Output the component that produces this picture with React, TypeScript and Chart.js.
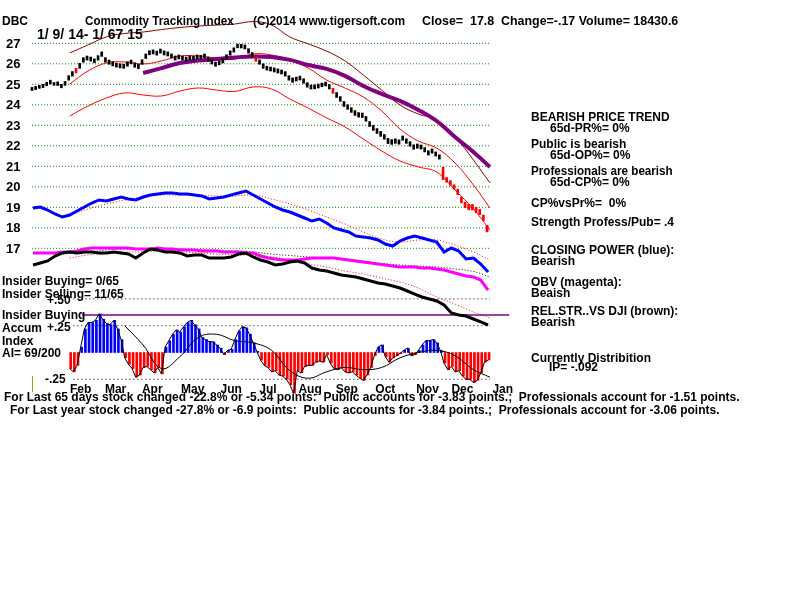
import React, { useEffect, useRef } from "react";
import { Chart, registerables } from "chart.js";

Chart.register(...registerables);

const FONT = '"Liberation Sans", Arial, sans-serif';

// ---------- data ----------
const priceTicks = [27, 26, 25, 24, 23, 22, 21, 20, 19, 18, 17];
const monthLabels = ["Feb", "Mar", "Apr", "May", "Jun", "Jul", "Aug", "Sep", "Oct", "Nov", "Dec", "Jan"];
const monthTickDays = [26, 45, 65, 87, 108, 128, 151, 171, 192, 215, 234, 256];

// daily price bars, one every 2 trading days
const priceHigh = [24.85,24.90,24.95,25.00,25.10,25.20,25.09,25.12,25.00,25.14, 25.42,25.62,25.78,26.02,26.30,26.38,26.33,26.24,26.40,26.58,
  26.30,26.18,26.10,26.03,26.00,25.98,26.10,26.18,26.05,25.98, 26.20,26.48,26.64,26.68,26.62,26.72,26.63,26.58,26.48,26.38,
  26.43,26.37,26.33,26.38,26.37,26.43,26.42,26.48,26.33,26.19, 26.08,26.14,26.24,26.44,26.63,26.78,26.96,26.95,26.92,26.74,
  26.55,26.34,26.19,26.00,25.88,25.84,25.80,25.75,25.70,25.62, 25.42,25.31,25.35,25.40,25.27,25.08,24.96,24.97,25.01,25.06,
  25.11,24.99,24.80,24.60,24.40,24.16,24.00,23.86,23.72,23.62, 23.60,23.43,23.18,22.99,22.84,22.70,22.55,22.36,22.30,22.34,
  22.29,22.48,22.34,22.20,22.05,22.09,22.04,21.91,21.76,21.85, 21.70,21.56,20.95,20.45,20.30,20.10,19.88,19.50,19.25,19.15,
  19.14,19.00,18.90,18.62,18.12];
const priceLow = [24.70,24.74,24.80,24.84,24.93,25.02,24.95,24.94,24.83,24.95, 25.20,25.40,25.55,25.78,26.08,26.18,26.13,26.05,26.18,26.36,
  26.08,25.98,25.90,25.84,25.80,25.78,25.88,26.00,25.83,25.76, 25.98,26.26,26.44,26.48,26.42,26.52,26.43,26.38,26.28,26.18,
  26.24,26.18,26.13,26.19,26.18,26.24,26.23,26.28,26.13,25.99, 25.88,25.95,26.04,26.22,26.42,26.57,26.78,26.77,26.72,26.52,
  26.32,26.12,25.98,25.78,25.69,25.65,25.60,25.55,25.50,25.40, 25.20,25.10,25.16,25.21,25.05,24.86,24.77,24.78,24.82,24.88,
  24.92,24.77,24.56,24.36,24.17,23.92,23.78,23.63,23.48,23.40, 23.38,23.20,22.94,22.75,22.60,22.46,22.32,22.11,22.07,22.12,
  22.08,22.27,22.12,21.98,21.83,21.88,21.84,21.70,21.55,21.64, 21.50,21.35,20.35,20.22,20.08,19.88,19.62,19.22,18.98,18.88,
  18.87,18.74,18.64,18.35,17.80];
const redSignalBars = [12, 61, 82];

// smooth bands / moving averages, every 10 trading days
const smoothDays = [0,10,20,30,40,50,60,70,80,90,100,110,120,130,140,150,160,170,180,190,200,210,220,230,240,249];
const maroonBand = [null,null,26.53,26.92,27.31,27.48,27.55,27.67,27.77,27.84,27.89,27.94,28.06,27.89,27.31,26.97,26.62,26.14,25.45,24.72,23.99,23.55,23.26,22.43,21.31,20.19];
const upperBand = [null,null,25.01,25.65,26.04,26.09,25.99,26.14,26.38,26.38,26.28,26.23,26.48,26.43,26.19,25.79,25.21,24.82,24.38,23.70,22.82,22.23,21.89,21.16,20.09,18.97];
const lowerBand = [null,null,23.45,23.94,24.33,24.58,24.48,24.43,24.67,24.82,24.72,24.65,24.87,24.77,24.28,23.84,23.36,22.92,22.33,21.75,21.26,20.97,20.72,19.84,18.92,17.89];
const priceMA = [null,null,null,null,null,null,25.55,25.79,26.04,26.16,26.23,26.31,26.36,26.33,26.19,25.94,25.75,25.41,24.92,24.53,24.19,23.75,23.21,22.43,21.70,20.97];
const cpMA = [null,null,43.57,45.14,46.46,47.51,48.29,48.82,48.82,48.82,48.56,48.56,48.82,47.77,46.46,44.88,43.04,41.21,39.11,37.27,36.48,37.01,37.01,35.70,33.86,31.76];
const obvMA = [null,null,33.60,33.86,34.38,34.65,34.65,34.65,34.65,34.38,34.38,34.12,33.86,33.33,32.94,32.55,32.28,32.02,31.50,30.84,30.45,30.18,29.92,29.40,28.74,27.30];
const rsMA = [null,null,32.28,33.07,33.60,33.86,33.86,34.12,33.86,33.60,33.33,33.07,33.07,32.55,31.76,30.71,29.92,28.87,28.08,27.03,25.98,24.41,22.05,20.21,18.11,16.54];
const aiMA = [null,null,null,null,null,0.25,0.07,-0.15,-0.04,0.14,0.17,0.11,0.09,0.02,-0.17,-0.24,-0.18,-0.14,-0.16,-0.14,-0.05,0.00,0.02,-0.03,-0.16,-0.23];

// indicators, every 4 trading days
const closingPower = [45.41,45.67,44.88,43.83,43.04,43.57,44.62,45.67,46.72,47.51, 47.24,47.77,48.29,47.77,47.51,48.29,48.82,49.08,49.34,49.34,
  49.08,49.08,48.82,48.56,47.77,48.03,48.29,48.82,49.34,49.87, 48.82,47.77,46.72,45.67,44.88,44.36,43.57,42.78,41.99,42.52,
  41.47,40.16,39.63,39.11,38.06,37.80,37.53,37.01,35.96,35.43, 36.75,37.53,38.06,37.53,37.01,36.48,33.86,34.91,34.12,32.02,
  32.28,30.71,28.61];
const obv = [33.60,33.60,33.60,33.60,33.86,33.86,34.12,34.65,34.91,34.91, 34.91,34.91,34.91,34.91,34.65,34.65,34.65,34.91,34.65,34.65,
  34.38,34.38,34.38,34.12,34.12,34.12,33.86,33.86,33.86,33.60, 33.60,32.81,32.28,32.02,31.76,31.76,31.76,32.02,32.28,32.28,
  32.28,32.28,32.02,31.76,31.50,31.23,30.97,30.71,30.45,30.18, 29.92,29.92,29.92,29.66,29.66,29.40,29.13,28.61,28.08,27.56,
  27.30,26.51,23.88];
const relStrength = [30.45,30.97,31.50,32.81,33.60,33.86,33.60,33.86,33.86,33.60, 33.60,33.86,33.60,33.33,32.28,33.60,34.65,34.38,33.86,33.86,
  33.60,32.81,33.07,33.07,32.28,32.28,32.28,32.55,33.33,33.60, 32.55,31.76,31.23,30.45,30.71,31.23,31.50,30.97,29.66,29.13,
  28.87,28.35,27.82,27.56,27.30,26.77,26.25,25.72,25.46,24.93, 24.41,23.62,22.83,22.05,21.52,21.00,19.95,17.85,17.32,17.06,
  16.27,15.49,14.70];

// accumulation index, every 2 trading days
const accumIndex = [null,null,null,null,null,null,null,null,null,null,
  -0.15,-0.18,-0.12,0.05,0.22,0.28,0.28,0.30,0.36,0.31, 0.27,0.26,0.30,0.22,0.12,-0.05,-0.11,-0.15,-0.23,-0.21,
  -0.14,-0.13,-0.16,-0.19,-0.14,-0.20,0.05,0.11,0.17,0.21, 0.19,0.24,0.28,0.30,0.26,0.22,0.14,0.12,0.10,0.10,
  0.07,0.04,-0.02,0.02,0.03,0.12,0.20,0.24,0.23,0.17, 0.09,0.01,-0.07,-0.12,-0.14,-0.18,-0.17,-0.21,-0.22,-0.25,
  -0.30,-0.38,-0.17,-0.19,-0.13,-0.12,-0.12,-0.09,-0.08,-0.09, -0.02,-0.10,-0.15,-0.16,-0.14,-0.18,-0.19,-0.18,-0.21,-0.24,
  -0.26,-0.21,-0.14,-0.03,0.05,0.07,-0.04,-0.09,-0.05,-0.03, -0.01,0.02,0.04,-0.03,-0.02,0.02,0.07,0.11,0.11,0.12,
  0.09,0.02,-0.10,-0.16,-0.13,-0.18,-0.17,-0.22,-0.25,-0.25, -0.28,-0.26,-0.19,-0.09,-0.07];
const aiLevels = [0.5, 0.25, -0.25];
const insiderLevel = 0.35;

// ---------- texts ----------
const tSymbol = "DBC";
const tTitle = "Commodity Tracking Index";
const tCopy = "(C)2014 www.tigersoft.com";
const tQuote = "Close=  17.8  Change=-.17 Volume= 18430.6";
const tRange = "1/ 9/ 14- 1/ 67 15";
const bottom1 = "For Last 65 days stock changed -22.8% or -5.34 points:  Public accounts for -3.83 points.;  Professionals account for -1.51 points.";
const bottom2 = "For Last year stock changed -27.8% or -6.9 points:  Public accounts for -3.84 points.;  Professionals account for -3.06 points.";

const priceDays = priceHigh.map((_, i) => i * 2);
const indDays = closingPower.map((_, i) => i * 4);
const pts = (days: number[], vals: (number | null)[]) => vals.map((v, i) => ({ x: days[i], y: v }));

// pixel layout of the reference (scale calibration)
const DAY0_PX = 33, DAY_PX = 1.835;
const P27_PX = 43.3, PRICE_PX = 20.5;
const AI0_PX = 352.5, AI_PX = 107.2;
const IND0_PX = 381, IND_PX = 3.81;

const Txt = ({ x, y, s = 12, w = 700, sx = 1, children }: any) => (
  <div style={{ position: "absolute", left: x, top: y - Math.round(s * 0.6), font: `${w} ${s}px ${FONT}`, lineHeight: `${Math.round(s * 1.2)}px`, whiteSpace: "pre", color: "#000", transform: `scaleX(${sx})`, transformOrigin: "0 50%" }}>{children}</div>
);

export default function App() {
  const ref = useRef<HTMLCanvasElement>(null);
  useEffect(() => {
    const line = (data: any, color: string, width: number, extra: any = {}) => ({
      type: "line", data, borderColor: color, borderWidth: width, pointRadius: 0, fill: false, tension: 0, clip: false, ...extra,
    });
    const smooth = { tension: 0.4 };
    const dotted = { borderDash: [1, 2] };
    const datasets: any[] = [];
    datasets.push({
      type: "bar", data: priceHigh.map((h, i) => ({ x: priceDays[i], y: [priceLow[i], h] })), yAxisID: "y", clip: false,
      backgroundColor: (c: any) => (c.dataIndex >= 112 || redSignalBars.includes(c.dataIndex) ? "#ff0000" : "#000000"),
      barThickness: 2, order: 1,
    });
    datasets.push(line(pts(smoothDays, priceMA), "#800080", 4, { ...smooth, yAxisID: "y", order: 2 }));
    datasets.push(line(pts(smoothDays, maroonBand), "#8b0000", 1, { ...smooth, yAxisID: "y", order: 3 }));
    datasets.push(line(pts(smoothDays, upperBand), "#ff0000", 1, { ...smooth, yAxisID: "y", order: 3 }));
    datasets.push(line(pts(smoothDays, lowerBand), "#ff0000", 1, { ...smooth, yAxisID: "y", order: 3 }));
    datasets.push(line(pts(indDays, closingPower), "#0000ff", 3, { yAxisID: "yInd", order: 4 }));
    datasets.push(line(pts(smoothDays, cpMA), "#ff0000", 1, { ...smooth, ...dotted, yAxisID: "yInd", order: 5 }));
    datasets.push(line(pts(indDays, obv), "#ff00ff", 3, { yAxisID: "yInd", order: 6 }));
    datasets.push(line(pts(smoothDays, obvMA), "#000000", 1, { ...smooth, ...dotted, yAxisID: "yInd", order: 7 }));
    datasets.push(line(pts(indDays, relStrength), "#000000", 3, { yAxisID: "yInd", order: 4 }));
    datasets.push(line(pts(smoothDays, rsMA), "#ff0000", 1, { ...smooth, ...dotted, yAxisID: "yInd", order: 5 }));
    datasets.push(line(pts(smoothDays, aiMA), "#000000", 1, { ...smooth, yAxisID: "yAI", order: 8 }));
    datasets.push(line(pts(priceDays, accumIndex), "#000000", 1, { yAxisID: "yAI", order: 9 }));
    datasets.push({
      type: "bar", data: pts(priceDays, accumIndex), yAxisID: "yAI", barThickness: 2, order: 10, clip: false,
      backgroundColor: (c: any) => ((c.raw && c.raw.y >= 0) ? "#0000ff" : "#ff0000"),
    });
    datasets.push(line([{ x: 26.7, y: insiderLevel }, { x: 259.5, y: insiderLevel }], "#800080", 1.5, { yAxisID: "yAI", order: 11 }));
    aiLevels.forEach((l) => datasets.push(line([{ x: 22, y: l }, { x: 249, y: l }], "#000000", 1, { borderDash: [1, 3], yAxisID: "yAI", order: 12 })));
    priceTicks.forEach((l) => datasets.push(line([{ x: -0.5, y: l }, { x: 249, y: l }], "#008000", 1, { ...dotted, yAxisID: "y", order: 20 })));

    const chart = new Chart(ref.current!, {
      type: "line",
      data: { datasets },
      options: {
        responsive: false,
        animation: false,
        events: [],
        layout: { autoPadding: false, padding: { left: 6, right: 260, top: 0, bottom: 205 } },
        plugins: { legend: { display: false }, tooltip: { enabled: false } },
        scales: {
          x: {
            type: "linear", min: -0.5, max: 260, offset: false,
            afterBuildTicks: (s: any) => { s.ticks = monthTickDays.map((v) => ({ value: v })); },
            afterFit: (s: any) => { s.height = 14; },
            grid: { display: false, drawTicks: false }, border: { display: false },
            ticks: { color: "#000", autoSkip: false, maxRotation: 0, padding: 1, font: { family: FONT, size: 12, weight: "bold" }, callback: (_v: any, i: number) => monthLabels[i] },
          },
          y: {
            type: "linear", position: "left", min: 10.527, max: 29.112,
            afterBuildTicks: (s: any) => { s.ticks = priceTicks.map((v) => ({ value: v })); },
            afterFit: (s: any) => { s.width = 26; },
            grid: { display: false, drawTicks: false }, border: { display: false },
            ticks: { color: "#000", crossAlign: "far", padding: 0, labelOffset: 1, font: { family: FONT, size: 13, weight: "bold" }, callback: (v: any) => String(v) },
          },
          yInd: { type: "linear", display: false, min: 0, max: 100 },
          yAI: { type: "linear", display: false, min: -0.2659, max: 3.2883 },
        },
      } as any,
    } as any);
    // calibrate the scales so the plot matches the reference pixel layout
    for (let k = 0; k < 3; k++) {
      const ca = chart.chartArea;
      const sc: any = chart.options.scales;
      sc.x.min = (ca.left - DAY0_PX) / DAY_PX;
      sc.x.max = (ca.right - DAY0_PX) / DAY_PX;
      sc.y.max = 27 - (ca.top - P27_PX) / PRICE_PX;
      sc.y.min = 27 - (ca.bottom - P27_PX) / PRICE_PX;
      sc.yAI.max = (AI0_PX - ca.top) / AI_PX;
      sc.yAI.min = (AI0_PX - ca.bottom) / AI_PX;
      sc.yInd.max = (IND0_PX - ca.top) / IND_PX;
      sc.yInd.min = (IND0_PX - ca.bottom) / IND_PX;
      chart.update();
    }
    return () => chart.destroy();
  }, []);

  return (
    <div style={{ position: "fixed", left: 0, top: 0, width: 800, height: 600, background: "#fff", overflow: "hidden" }}>
      <canvas ref={ref} width={800} height={600} style={{ position: "absolute", left: 0, top: 0, width: 800, height: 600 }} />
      <Txt x={2} y={21}>{tSymbol}</Txt>
      <Txt x={85} y={21} sx={0.97}>{tTitle}</Txt>
      <Txt x={253} y={21} sx={0.99}>{tCopy}</Txt>
      <Txt x={422} y={21} sx={1.035}>{tQuote}</Txt>
      <Txt x={37} y={34} s={14}>{tRange}</Txt>

      <Txt x={531} y={117}>BEARISH PRICE TREND</Txt>
      <Txt x={550} y={128}>65d-PR%= 0%</Txt>
      <Txt x={531} y={144}>Public is bearish</Txt>
      <Txt x={550} y={155}>65d-OP%= 0%</Txt>
      <Txt x={531} y={171} sx={0.97}>Professionals are bearish</Txt>
      <Txt x={550} y={182}>65d-CP%= 0%</Txt>
      <Txt x={531} y={203}>CP%vsPr%=  0%</Txt>
      <Txt x={531} y={222}>Strength Profess/Pub= .4</Txt>
      <Txt x={531} y={250}>CLOSING POWER (blue):</Txt>
      <Txt x={531} y={261}>Bearish</Txt>
      <Txt x={531} y={282}>OBV (magenta):</Txt>
      <Txt x={531} y={293}>Beaish</Txt>
      <Txt x={531} y={311}>REL.STR..VS DJI (brown):</Txt>
      <Txt x={531} y={322}>Bearish</Txt>
      <Txt x={531} y={358}>Currently Distribition</Txt>
      <Txt x={549} y={367}>IP= -.092</Txt>

      <Txt x={2} y={281}>Insider Buying= 0/65</Txt>
      <Txt x={2} y={294}>Insider Selling= 11/65</Txt>
      <Txt x={47} y={300}>+.50</Txt>
      <Txt x={2} y={315}>Insider Buying</Txt>
      <Txt x={2} y={328}>Accum</Txt>
      <Txt x={47} y={327}>+.25</Txt>
      <Txt x={2} y={341}>Index</Txt>
      <Txt x={2} y={353}>AI= 69/200</Txt>
      <Txt x={45} y={379}>-.25</Txt>
      <div style={{ position: "absolute", left: 32, top: 376, width: 1, height: 16, background: "#a0a000" }} />

      <Txt x={4} y={397}>{bottom1}</Txt>
      <Txt x={10} y={410}>{bottom2}</Txt>
    </div>
  );
}
